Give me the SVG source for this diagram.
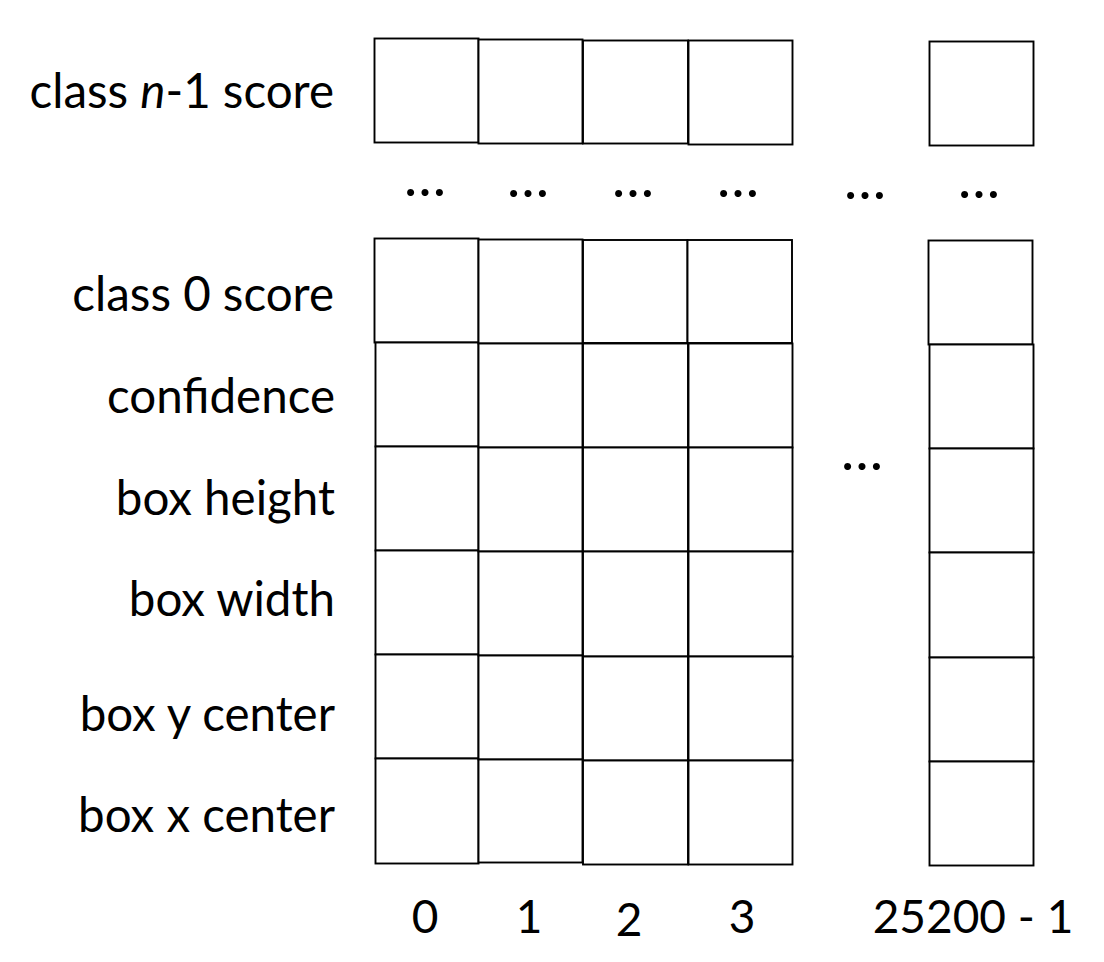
<svg xmlns="http://www.w3.org/2000/svg" width="1104" height="962" viewBox="0 0 1104 962">
<style>
.c{fill:#fff;stroke:#000;stroke-width:1.9}
.l{font-family:Lato,"Liberation Sans",sans-serif;font-size:47.5px;fill:#000}
.d{font-family:Lato,"Liberation Sans",sans-serif;font-size:56px;fill:#000;text-anchor:middle}
.n{font-family:Lato,"Liberation Sans",sans-serif;font-size:46px;fill:#000;text-anchor:middle}
</style>
<rect width="1104" height="962" fill="#fff"/>
<g id="labels" class="l" text-anchor="end">
<text x="334" y="108">class <tspan font-style="italic">n</tspan>-1 score</text>
<text x="334" y="311">class 0 score</text>
<text x="335" y="413">confidence</text>
<text x="335" y="515">box height</text>
<text x="335" y="616">box width</text>
<text x="335" y="731">box y center</text>
<text x="335" y="832">box x center</text>
</g>
<g id="row-n1">
<rect id="n1-0" class="c" x="374.5" y="38.5" width="104" height="104"/>
<rect id="n1-1" class="c" x="478.5" y="39.5" width="104" height="104"/>
<rect id="n1-2" class="c" x="583" y="40.5" width="105" height="103"/>
<rect id="n1-3" class="c" x="688.5" y="40.5" width="104" height="104"/>
<rect id="n1-last" class="c" x="929.5" y="41.5" width="104" height="104"/>
</g>
<g id="dots">
<text class="d" x="425" y="196">…</text>
<text class="d" x="528" y="197">…</text>
<text class="d" x="633" y="197">…</text>
<text class="d" x="738" y="197">…</text>
<text class="d" x="865" y="199">…</text>
<text class="d" x="979" y="198">…</text>
<text class="d" x="862" y="470">…</text>
</g>
<g id="col-0">
<rect class="c" x="374.5" y="238.5" width="104" height="104"/>
<rect class="c" x="375.5" y="342.5" width="103" height="104"/>
<rect class="c" x="375.5" y="446.5" width="103" height="104"/>
<rect class="c" x="375.5" y="550.5" width="103" height="104"/>
<rect class="c" x="375.5" y="654.5" width="103" height="104"/>
<rect class="c" x="375.5" y="758.5" width="103" height="105"/>
</g>
<g id="col-1">
<rect class="c" x="478.5" y="239.5" width="104" height="104"/>
<rect class="c" x="478.5" y="343.5" width="104" height="104"/>
<rect class="c" x="478.5" y="447.5" width="104" height="104"/>
<rect class="c" x="478.5" y="551.5" width="104" height="104"/>
<rect class="c" x="478.5" y="655.5" width="104" height="104"/>
<rect class="c" x="478.5" y="759.5" width="104" height="103"/>
</g>
<g id="col-2">
<rect class="c" x="583" y="240" width="104.5" height="103"/>
<rect class="c" x="583" y="343.5" width="105" height="104"/>
<rect class="c" x="583" y="447.5" width="105" height="104"/>
<rect class="c" x="583" y="551.5" width="105" height="105"/>
<rect class="c" x="583" y="656.5" width="105" height="104"/>
<rect class="c" x="583" y="760.5" width="105" height="104"/>
</g>
<g id="col-3">
<rect class="c" x="687.5" y="240" width="104.5" height="103"/>
<rect class="c" x="688.5" y="343.5" width="104" height="104"/>
<rect class="c" x="688.5" y="447.5" width="104" height="104"/>
<rect class="c" x="688.5" y="551.5" width="104" height="105"/>
<rect class="c" x="688.5" y="656.5" width="104" height="104"/>
<rect class="c" x="688.5" y="760.5" width="104" height="104"/>
</g>
<g id="col-last">
<rect class="c" x="928.5" y="240.5" width="104" height="104"/>
<rect class="c" x="929.5" y="344.5" width="104" height="104"/>
<rect class="c" x="929.5" y="448.5" width="104" height="104"/>
<rect class="c" x="929.5" y="552.5" width="104" height="105"/>
<rect class="c" x="929.5" y="657.5" width="104" height="104"/>
<rect class="c" x="929.5" y="761.5" width="104" height="104"/>
</g>
<g id="indices">
<text class="n" x="425" y="933">0</text>
<text class="n" x="529" y="933">1</text>
<text class="n" x="629" y="936">2</text>
<text class="n" x="742" y="933">3</text>
<text class="n" x="973" y="933">25200 - 1</text>
</g>
</svg>
